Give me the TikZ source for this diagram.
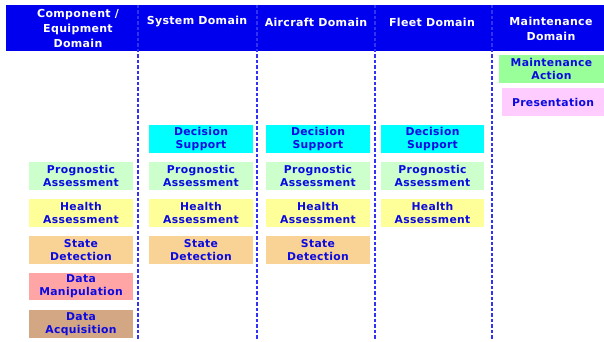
\documentclass[tikz,border=0pt]{standalone}
\usepackage{fontspec}
\setmainfont[LetterSpace=3]{DejaVu Sans}
\definecolor{barblue}{RGB}{0,0,238}
\definecolor{dashblue}{RGB}{50,50,245}
\definecolor{txtblue}{RGB}{10,10,225}
\definecolor{cdecision}{RGB}{0,255,255}
\definecolor{cprog}{RGB}{204,255,204}
\definecolor{chealth}{RGB}{255,255,153}
\definecolor{cstate}{RGB}{249,210,150}
\definecolor{cmanip}{RGB}{255,165,165}
\definecolor{cacq}{RGB}{212,167,132}
\definecolor{caction}{RGB}{153,255,153}
\definecolor{cpres}{RGB}{255,204,255}
\begin{document}
\begin{tikzpicture}[x=1pt,y=-1pt,
  box/.style={minimum width=104pt, minimum height=28pt, inner sep=0pt, align=center,
    font=\bfseries\fontsize{10.8}{13}\selectfont, text=txtblue},
  head/.style={align=center, inner sep=0pt, text=white,
    font=\bfseries\fontsize{11}{15}\selectfont},
  sep/.style={draw=dashblue, line width=2.4pt, dash pattern=on 3.5pt off 2pt}]
\useasboundingbox (0,0) rectangle (604,342);
% header bar
\fill[barblue] (6,5) rectangle (604,51);
% separators
\foreach \x/\n in {138/a,257/b,375/c,492/d}{
  \coordinate (top\n) at (\x,5);
  \coordinate (bot\n) at (\x,340);
  \draw[sep] (top\n) -- (bot\n);
}
% headers
\node[head] (h1) at (78,28) {Component /\\Equipment\\Domain};
\node[head] (h2) at (197,22) {System Domain};
\node[head] (h3) at (316,22) {Aircraft Domain};
\node[head] (h4) at (432,22) {Fleet Domain};
\node[head] (h5) at (551,28.5) {Maintenance\\Domain};
% column 1
\node[box, fill=cprog] (p1) at (81,175.5) {Prognostic\\Assessment};
\node[box, fill=chealth] (hl1) at (81,213) {Health\\Assessment};
\node[box, fill=cstate] (s1) at (81,250) {State\\Detection};
\node[box, fill=cmanip, minimum height=27pt] (dm1) at (81,286.5) {Data\\Manipulation};
\node[box, fill=cacq] (da1) at (81,324) {Data\\Acquisition};
% column 2
\node[box, fill=cdecision] (d2) at (201,139) {Decision\\Support};
\node[box, fill=cprog] (p2) at (201,175.5) {Prognostic\\Assessment};
\node[box, fill=chealth] (hl2) at (201,213) {Health\\Assessment};
\node[box, fill=cstate] (s2) at (201,250) {State\\Detection};
% column 3
\node[box, fill=cdecision] (d3) at (318,139) {Decision\\Support};
\node[box, fill=cprog] (p3) at (318,175.5) {Prognostic\\Assessment};
\node[box, fill=chealth] (hl3) at (318,213) {Health\\Assessment};
\node[box, fill=cstate] (s3) at (318,250) {State\\Detection};
% column 4
\node[box, fill=cdecision, minimum width=103pt] (d4) at (432.5,139) {Decision\\Support};
\node[box, fill=cprog, minimum width=103pt] (p4) at (432.5,175.5) {Prognostic\\Assessment};
\node[box, fill=chealth, minimum width=103pt] (hl4) at (432.5,213) {Health\\Assessment};
% column 5
\node[box, fill=caction, minimum width=105pt] (ma) at (551.5,69) {Maintenance\\Action};
\node[box, fill=cpres, minimum width=102pt] (pr) at (553,102) {Presentation};
\end{tikzpicture}
\end{document}
